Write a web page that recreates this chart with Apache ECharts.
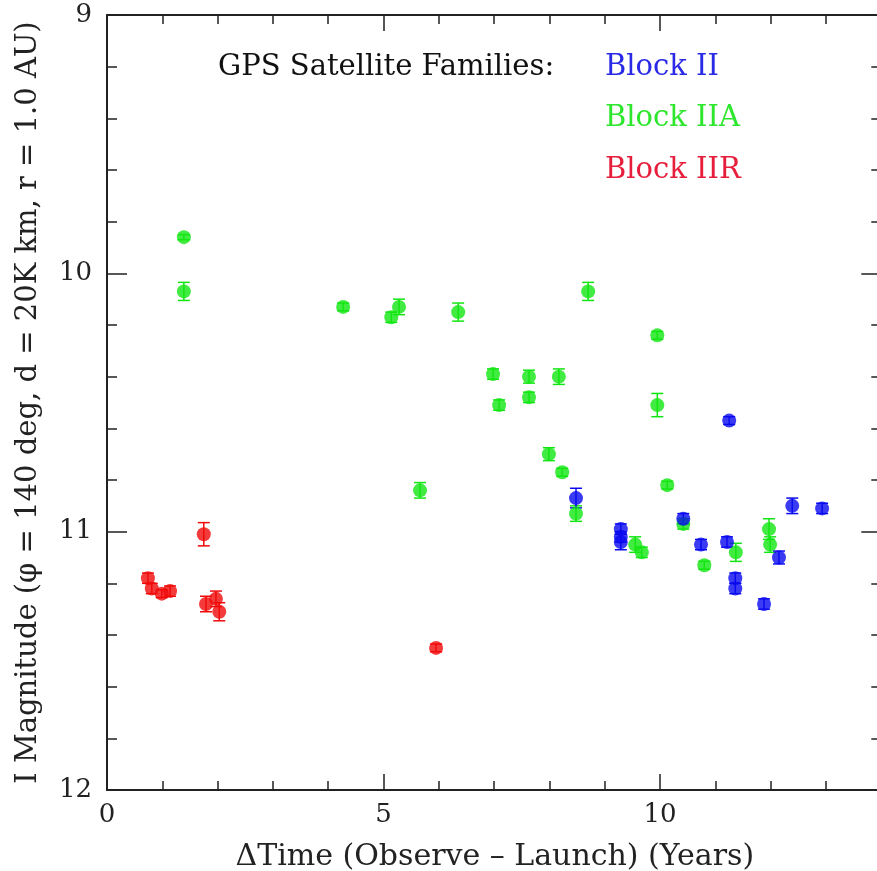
<!DOCTYPE html>
<html><head><meta charset="utf-8">
<script src="https://cdn.jsdelivr.net/npm/echarts@6/dist/echarts.min.js"></script>
<style>html,body{margin:0;padding:0;background:#fff}#c{width:877px;height:871px}</style>
</head><body><div id="c"></div>
<script>
// Block II (blue)
const blockII_x   = [8.48, 9.29, 9.29, 9.29, 10.42, 10.74, 11.21, 11.25, 11.36, 11.36, 11.88, 12.15, 12.39, 12.93];
const blockII_y   = [10.87, 10.99, 11.02, 11.04, 10.95, 11.05, 11.04, 10.57, 11.18, 11.22, 11.28, 11.10, 10.90, 10.91];
const blockII_err = [0.038, 0.02, 0.02, 0.03, 0.02, 0.02, 0.02, 0.015, 0.02, 0.02, 0.02, 0.025, 0.03, 0.02];
// Block IIA (green)
const blockIIA_x   = [1.39, 1.39, 4.27, 5.14, 5.28, 6.35, 8.70, 9.95, 6.98, 7.09, 7.63, 7.63, 8.17, 7.99, 8.23, 5.66, 8.48, 9.95, 10.13, 10.42, 9.55, 9.67, 10.80, 11.37, 11.97, 11.99];
const blockIIA_y   = [9.86, 10.07, 10.13, 10.17, 10.13, 10.15, 10.07, 10.24, 10.39, 10.51, 10.40, 10.48, 10.40, 10.70, 10.77, 10.84, 10.93, 10.51, 10.82, 10.97, 11.05, 11.08, 11.13, 11.08, 10.99, 11.05];
const blockIIA_err = [0.01, 0.035, 0.015, 0.02, 0.03, 0.035, 0.035, 0.015, 0.02, 0.02, 0.025, 0.02, 0.03, 0.025, 0.015, 0.03, 0.03, 0.045, 0.015, 0.02, 0.03, 0.02, 0.015, 0.035, 0.04, 0.03];
// Block IIR (red)
const blockIIR_x   = [0.74, 0.81, 0.99, 1.14, 1.75, 1.79, 1.97, 2.03, 5.95];
const blockIIR_y   = [11.18, 11.22, 11.24, 11.23, 11.01, 11.28, 11.26, 11.31, 11.45];
const blockIIR_err = [0.02, 0.02, 0.015, 0.02, 0.045, 0.03, 0.03, 0.035, 0.015];

const xTickLabels = ['0', '5', '10'];
const yTickLabels = ['9', '10', '11', '12'];

const BLUE = '#0a0af0', GREEN = '#12e612', RED = '#f00a0a';
const FONT = 'DejaVu Serif';

function errSeries(xs, ys, es, color) {
  return {
    type: 'custom', silent: true, z: 2,
    data: xs.map((x, i) => [x, ys[i] - es[i], ys[i] + es[i]]),
    encode: { x: 0, y: [1, 2] },
    renderItem(params, api) {
      const x = api.value(0);
      const lo = api.coord([x, api.value(1)]);
      const hi = api.coord([x, api.value(2)]);
      const w = 6, st = { stroke: color, lineWidth: 1.5 };
      return { type: 'group', children: [
        { type: 'line', shape: { x1: lo[0], y1: lo[1], x2: hi[0], y2: hi[1] }, style: st },
        { type: 'line', shape: { x1: lo[0] - w, y1: lo[1], x2: lo[0] + w, y2: lo[1] }, style: st },
        { type: 'line', shape: { x1: hi[0] - w, y1: hi[1], x2: hi[0] + w, y2: hi[1] }, style: st }
      ]};
    }
  };
}
function pts(xs, ys, name, color) {
  return { type: 'scatter', name, symbol: 'circle', symbolSize: 14, z: 3,
    itemStyle: { color }, data: xs.map((x, i) => [x, ys[i]]) };
}

const axisLineStyle = { color: '#222', width: 2 };
const tickStyle = { color: '#222', width: 1.5 };
const chart = echarts.init(document.getElementById('c'));
chart.setOption({
  animation: false,
  backgroundColor: '#fff',
  grid: { left: 107, top: 15, width: 829.6, height: 775, containLabel: false, outerBoundsMode: 'none' },
  xAxis: [
    { type: 'value', position: 'bottom', min: 0, max: 15, interval: 5,
      axisLine: { show: true, onZero: false, lineStyle: axisLineStyle },
      axisTick: { inside: true, length: 16, lineStyle: tickStyle },
      minorTick: { show: true, splitNumber: 5, length: 9, lineStyle: tickStyle },
      splitLine: { show: false },
      axisLabel: { fontFamily: FONT, fontSize: 26, color: '#222', margin: 12,
        formatter: v => xTickLabels.includes(String(v)) ? String(v) : '' },
      name: '\u0394Time (Observe \u2013 Launch) (Years)', nameLocation: 'middle', nameGap: 52,
      nameTextStyle: { fontFamily: FONT, fontSize: 30, color: '#222', padding: [0, 54, 0, 0] } },
    { type: 'value', position: 'top', min: 0, max: 15, interval: 5,
      axisLine: { show: true, onZero: false, lineStyle: axisLineStyle },
      axisTick: { inside: true, length: 16, lineStyle: tickStyle },
      minorTick: { show: true, splitNumber: 5, length: 9, lineStyle: tickStyle },
      splitLine: { show: false }, axisLabel: { show: false } }
  ],
  yAxis: [
    { type: 'value', position: 'left', inverse: true, min: 9, max: 12, interval: 1,
      axisLine: { show: true, onZero: false, lineStyle: axisLineStyle },
      axisTick: { inside: true, length: 20, lineStyle: tickStyle },
      minorTick: { show: true, splitNumber: 5, length: 10, lineStyle: tickStyle },
      splitLine: { show: false },
      axisLabel: { fontFamily: FONT, fontSize: 26, color: '#222', margin: 15,
        formatter: v => yTickLabels.includes(String(v)) ? String(v) : '' },
      name: 'I Magnitude (\u03C6 = 140 deg, d = 20K km, r = 1.0 AU)', nameLocation: 'middle', nameGap: 64,
      nameTextStyle: { fontFamily: FONT, fontSize: 29, color: '#222' } },
    { type: 'value', position: 'right', offset: -55.3, inverse: true, min: 9, max: 12, interval: 1,
      axisLine: { show: true, onZero: false, lineStyle: axisLineStyle },
      axisTick: { inside: true, length: 20, lineStyle: tickStyle },
      minorTick: { show: true, splitNumber: 5, length: 10, lineStyle: tickStyle },
      splitLine: { show: false }, axisLabel: { show: false } }
  ],
  graphic: [
    { type: 'text', left: 218, top: 53, style: { text: 'GPS Satellite Families:', fontFamily: FONT, fontSize: 29, fill: '#111' } },
    { type: 'text', left: 605, top: 53, style: { text: 'Block II', fontFamily: FONT, fontSize: 29, fill: '#2a2ae6' } },
    { type: 'text', left: 605, top: 104, style: { text: 'Block IIA', fontFamily: FONT, fontSize: 29, fill: '#2ee62e' } },
    { type: 'text', left: 605, top: 156, style: { text: 'Block IIR', fontFamily: FONT, fontSize: 29, fill: '#e61e3c' } }
  ],
  series: [
    errSeries(blockIIA_x, blockIIA_y, blockIIA_err, GREEN),
    pts(blockIIA_x, blockIIA_y, 'Block IIA', GREEN),
    errSeries(blockII_x, blockII_y, blockII_err, BLUE),
    pts(blockII_x, blockII_y, 'Block II', BLUE),
    errSeries(blockIIR_x, blockIIR_y, blockIIR_err, RED),
    pts(blockIIR_x, blockIIR_y, 'Block IIR', RED)
  ]
});
</script></body></html>
